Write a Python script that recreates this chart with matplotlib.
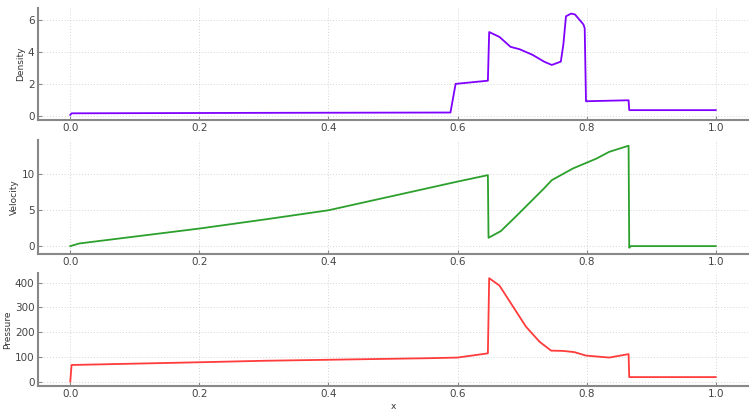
import matplotlib
matplotlib.use("Agg")
import matplotlib.pyplot as plt

# density
x_rho = [0.0, 0.002, 0.3, 0.589, 0.597, 0.647, 0.649, 0.665, 0.682, 0.696, 0.716,
         0.734, 0.746, 0.760, 0.764, 0.768, 0.776, 0.782, 0.795, 0.797, 0.799,
         0.865, 0.866, 1.0]
rho = [0.05, 0.15, 0.18, 0.2, 2.0, 2.2, 5.26, 4.95, 4.33, 4.18, 3.83,
       3.4, 3.19, 3.4, 4.5, 6.25, 6.42, 6.36, 5.74, 5.5, 0.91,
       0.97, 0.35, 0.35]

# velocity
x_vel = [0.0, 0.014, 0.2, 0.3, 0.4, 0.5, 0.6, 0.647, 0.648, 0.667, 0.69, 0.734,
         0.746, 0.779, 0.815, 0.835, 0.865, 0.866, 0.868, 1.0]
vel = [0.0, 0.37, 2.45, 3.7, 5.0, 7.0, 9.0, 9.9, 1.16, 2.09, 4.1, 8.05,
       9.2, 10.84, 12.2, 13.15, 14.0, -0.23, 0.0, 0.0]

# pressure
x_p = [0.0, 0.002, 0.2, 0.3, 0.557, 0.6, 0.647, 0.649, 0.665, 0.706, 0.727,
       0.745, 0.763, 0.781, 0.799, 0.835, 0.865, 0.866, 1.0]
p = [0.0, 67, 78, 84, 94.5, 97, 114, 418, 388, 222, 161,
     125, 124, 119, 105, 97, 111, 18, 18]

panels = [
    (x_rho, rho, "#7f00ff", "Density", (-0.27, 6.77), [0, 2, 4, 6]),
    (x_vel, vel, "#2ca02c", "Velocity", (-1.1, 14.8), [0, 5, 10]),
    (x_p, p, "#ff3b3b", "Pressure", (-18, 439), [0, 100, 200, 300, 400]),
]

fig = plt.figure(figsize=(7.56, 4.16), dpi=100)
tops = [8, 140, 273]
bots = [120, 254, 386]
for (xs, ys, c, lab, yl, yt), t, b in zip(panels, tops, bots):
    ax = fig.add_axes([38 / 756, 1 - b / 416, 710 / 756, (b - t) / 416])
    ax.plot(xs, ys, color=c, lw=1.3)
    ax.set_xlim(-0.05, 1.05)
    ax.set_ylim(*yl)
    ax.set_yticks(yt)
    ax.set_xticks([0.0, 0.2, 0.4, 0.6, 0.8, 1.0])
    ax.set_ylabel(lab, fontsize=6.5, color="#333333", labelpad=2)
    ax.grid(True, ls=(0, (1, 2)), color="#d5d5d5", lw=0.7)
    for s in ["top", "right"]:
        ax.spines[s].set_visible(False)
    for s in ["left", "bottom"]:
        ax.spines[s].set_color("#888888")
        ax.spines[s].set_linewidth(1.5)
    ax.tick_params(direction="in", length=3, color="#888888", pad=2.5,
                   labelcolor="#444444", labelsize=7.5)

ax.set_xlabel("x", fontsize=6.5, color="#333333", labelpad=2)

fig.savefig("out.png", dpi=100)
